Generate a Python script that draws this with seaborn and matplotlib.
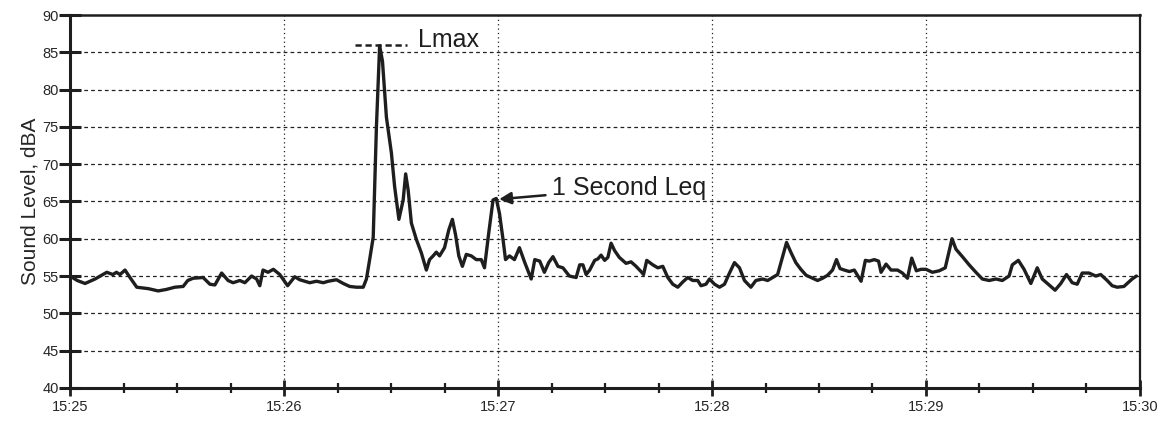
import numpy as np
import pandas as pd
import seaborn as sns
import matplotlib
matplotlib.use("Agg")
import matplotlib.pyplot as plt
from matplotlib.ticker import MultipleLocator

# seconds after 15:25:00
seconds = [
    0, 2, 4.2, 7, 10.3, 12, 13, 14, 15.4, 16.8, 18.7, 22, 24.7, 27, 29.4, 31.7,
    33, 34.5, 37.3, 39.2, 40.6, 42.5, 44.3, 45.7, 47.6, 49, 50.9, 52.3, 53.2,
    54.1, 55.5, 57, 58.8, 61, 63, 64.4, 67.2, 69.1, 71, 72.4, 74.7, 76.6, 78.4,
    80.3, 82.2, 83.1, 84, 85, 85.9, 86.8, 87.6, 88.7, 90.1, 91, 92.2, 93.4, 94.1,
    94.8, 95.7, 97.1, 98.5, 99.9, 100.8, 101.8, 102.7, 103.6, 105, 106.2, 107.2,
    108.1, 109, 110, 111.1, 112.5, 113.9, 115.3, 116.2, 117.4, 118.6, 119.5,
    120.4, 121.4, 122.1, 123.2, 124.6, 126, 127.5, 129.3, 130.3, 131.7, 133,
    134.2, 135.4, 136.8, 138.2, 140, 141.9, 142.9, 143.8, 144.7, 145.7, 147.1,
    148, 148.9, 149.9, 150.8, 151.7, 152.7, 154, 155.9, 157.3, 158.7, 160.1,
    160.8, 161.7, 163.4, 164.8, 166.2, 167.6, 169, 170.4, 171.8, 173.2, 174.6,
    176, 176.9, 178.3, 179.3, 180.7, 182.1, 183.5, 184.9, 186.3, 187.7, 189.1,
    190.9, 192.3, 194.2, 195.6, 197, 198.4, 199.8, 200.9, 202.1, 203.5, 204.9,
    206.4, 208.2, 209.6, 211, 212.4, 213.8, 214.9, 215.9, 217.1, 218.5, 219.9,
    221.8, 223, 224.1, 225.5, 226.7, 227.4, 228.8, 230.2, 232, 233.4, 234.8,
    236, 237.3, 238.6, 240, 241.8, 243.7, 245.4, 247.3, 248.4, 250.2, 252.1,
    254, 255.8, 257.7, 259.6, 261.4, 263.3, 264.2, 265.9, 267.5, 269.4, 271.2,
    272.6, 274.5, 276.2, 277.8, 279.4, 281, 282.4, 283.8, 285.7, 287.6, 289,
    290.8, 292.2, 293.6, 295.5, 297.8, 299,
]
levels = [
    55.0, 54.4, 54.0, 54.6, 55.5, 55.2, 55.5, 55.2, 55.8, 54.8, 53.5, 53.3, 53.0,
    53.2, 53.5, 53.6, 54.4, 54.7, 54.8, 53.9, 53.8, 55.4, 54.4, 54.1, 54.4, 54.1,
    55.0, 54.6, 53.7, 55.8, 55.5, 55.9, 55.2, 53.7, 54.9, 54.5, 54.1, 54.3, 54.1,
    54.3, 54.5, 54.0, 53.6, 53.5, 53.5, 54.6, 57.2, 60.2, 75.0, 85.9, 83.8, 76.3,
    71.5, 67.0, 62.6, 65.2, 68.7, 66.5, 62.1, 59.9, 58.1, 55.8, 57.2, 57.7, 58.2,
    57.7, 58.8, 61.2, 62.6, 60.5, 57.7, 56.3, 57.9, 57.7, 57.2, 57.2, 56.1, 60.8,
    65.2, 65.4, 63.4, 59.9, 57.2, 57.7, 57.2, 58.8, 56.8, 54.6, 57.2, 57.0, 55.5,
    56.8, 57.6, 56.3, 56.1, 55.0, 54.8, 56.5, 56.5, 55.2, 55.8, 57.1, 57.3, 57.8,
    57.1, 57.5, 59.4, 58.4, 57.5, 56.7, 56.9, 56.3, 55.6, 55.2, 57.1, 56.5, 56.1,
    56.3, 54.8, 53.9, 53.5, 54.2, 54.8, 54.4, 54.4, 53.7, 53.9, 54.6, 53.9, 53.5,
    53.9, 55.4, 56.8, 56.1, 54.4, 53.5, 54.4, 54.6, 54.4, 54.8, 55.2, 57.6, 59.5,
    58.2, 56.8, 55.9, 55.1, 54.7, 54.4, 54.7, 55.1, 55.8, 57.2, 56.0, 55.8, 55.6,
    55.8, 54.3, 57.1, 57.0, 57.2, 57.0, 55.5, 56.6, 55.8, 55.8, 55.4, 54.7, 57.4,
    55.7, 55.9, 55.9, 55.5, 55.7, 56.1, 60.0, 58.6, 57.6, 56.5, 55.5, 54.6, 54.4,
    54.6, 54.4, 55.0, 56.5, 57.1, 55.9, 54.0, 56.1, 54.6, 53.8, 53.1, 54.0, 55.2,
    54.1, 53.9, 55.4, 55.4, 55.0, 55.2, 54.4, 53.7, 53.5, 53.6, 54.6, 55.0,
]

minute_ticks = [0, 60, 120, 180, 240, 300]
minute_labels = ["15:25", "15:26", "15:27", "15:28", "15:29", "15:30"]
level_ticks = [40, 45, 50, 55, 60, 65, 70, 75, 80, 85, 90]

df = pd.DataFrame({"t": seconds, "level": levels})

sns.set_style("white")
plt.rcParams["font.family"] = ["Liberation Sans", "DejaVu Sans"]

ink = "#1e1e1e"
fig = plt.figure(figsize=(11.68, 4.3), dpi=100)
ax = fig.add_axes([0.060, 0.098, 0.916, 0.867])

# grid first so the trace sits on top
for y in level_ticks[1:-1]:
    ax.axhline(y, color="#222222", lw=0.9, ls=(0, (3, 2.5)), zorder=1)
for x in minute_ticks[1:-1]:
    ax.axvline(x, color="#222222", lw=0.9, ls=(0, (1, 2.5)), zorder=1)

sns.lineplot(data=df, x="t", y="level", color=ink, lw=2.4, ax=ax, zorder=3)

ax.set_xlim(0, 300)
ax.set_ylim(40, 90)
ax.set_xticks(minute_ticks)
ax.set_xticklabels(minute_labels)
ax.xaxis.set_minor_locator(MultipleLocator(15))
ax.set_yticks(level_ticks)
ax.tick_params(axis="both", which="both", bottom=True, left=True,
               direction="inout", color=ink)
ax.tick_params(axis="y", which="major", length=16, width=2.2,
               labelsize=10.5, pad=0)
ax.tick_params(axis="x", which="major", length=11, width=2,
               labelsize=10.5, pad=3)
ax.tick_params(axis="x", which="minor", length=7, width=1.6)
ax.set_xlabel("")
ax.set_ylabel("Sound Level, dBA", fontsize=15, labelpad=2)

for side, w in [("left", 2.2), ("bottom", 2.2), ("top", 1.8), ("right", 1.6)]:
    ax.spines[side].set_visible(True)
    ax.spines[side].set_color(ink)
    ax.spines[side].set_linewidth(w)

# Lmax marker and label
ax.plot([80, 94.5], [86, 86], color=ink, lw=1.8, ls=(0, (2.5, 1.5)), zorder=4)
ax.text(97.5, 86.6, "Lmax", fontsize=18, va="center", ha="left", color=ink)

# 1 second Leq callout
ax.annotate("1 Second Leq", xy=(120.3, 65.3), xytext=(135, 66.8),
            fontsize=18, va="center", ha="left", color=ink,
            arrowprops=dict(arrowstyle="-|>", color=ink, lw=1.8,
                            mutation_scale=18, shrinkA=2, shrinkB=0))

plt.savefig("out.png", dpi=100)
